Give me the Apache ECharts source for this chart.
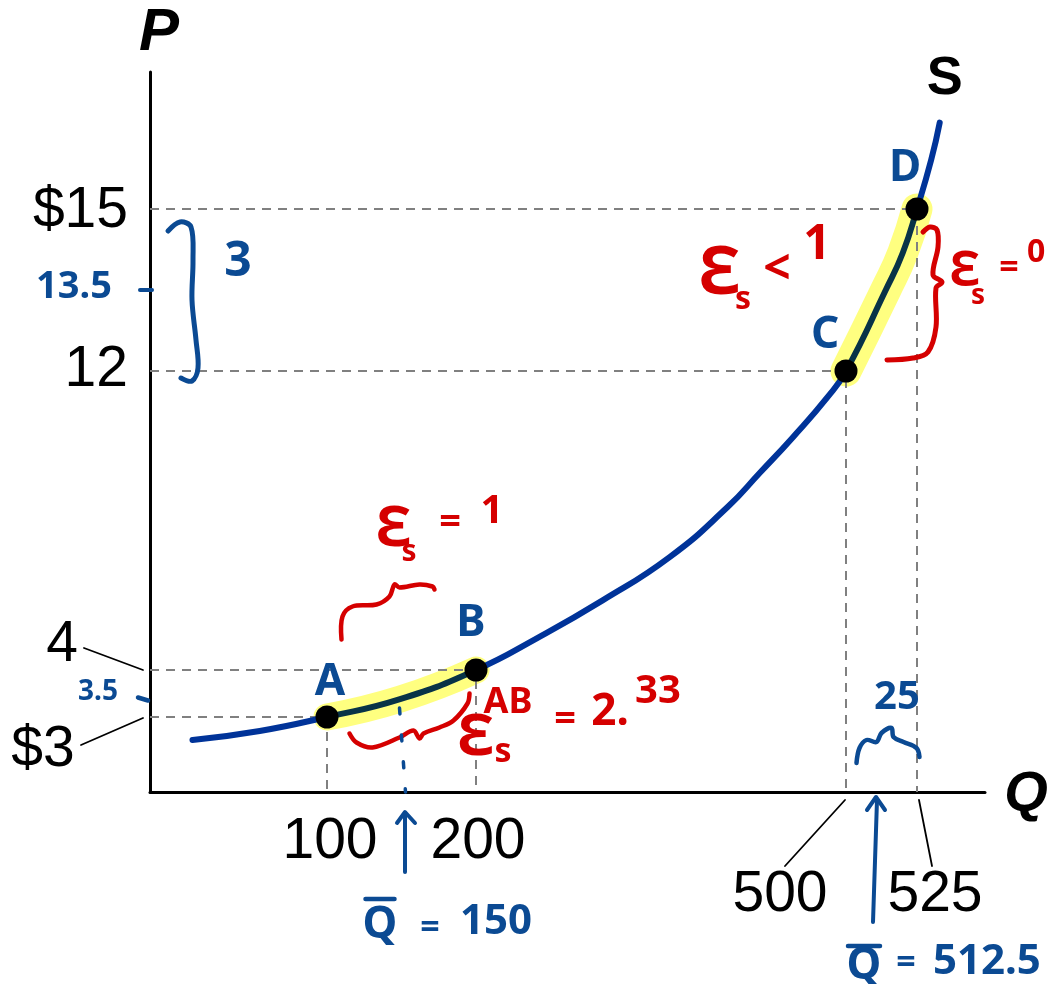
<!DOCTYPE html>
<html>
<head>
<meta charset="utf-8">
<title>Price elasticity of supply along S</title>
<script src="https://cdn.jsdelivr.net/npm/echarts@6/dist/echarts.min.js"></script>
<style>
  html, body { margin: 0; padding: 0; background: #ffffff; }
  #chart { width: 1047px; height: 984px; }
</style>
</head>
<body>
<div id="chart"></div>
<script>
// ---- Data -------------------------------------------------------------
// Marked points on the supply curve
const pointNames = ['A', 'B', 'C', 'D'];
const pointQ = [100, 200, 500, 525];
const pointP = [3, 4, 12, 15];

// Tick labels shown at those quantities / prices
const qTickText = ['100', '200', '500', '525'];
const pTickText = ['$3', '4', '12', '$15'];

// Supply curve S, sampled as (Q, P) pairs
const curveQ = [24, 62, 100, 149, 200, 250, 303, 357, 404, 430, 457, 485, 500, 514, 520, 525, 530, 533];
const curveP = [2.08, 2.44, 3, 3.38, 4, 4.86, 5.87, 7.02, 8.36, 9.27, 10.23, 11.3, 12, 13.5, 14.19, 15, 15.91, 16.6];

// Midpoint-method notes
const midQ = [150, 512.5];
const midP = [3.5, 13.5];
const deltaQ = 25;
const deltaP = 3;
const elasticityAB = '2.33';
const elasticityCD = '0.22';

(function () {
// ---- Schematic (broken) axes -----------------------------------------
// The diagram is not to scale: each range of Q and P gets its own room.
const Q_KNOTS = [0, 100, 200, 500, 525];
const X_AT    = [0, 177, 326, 696, 767];
const P_KNOTS = [0, 3, 4, 12, 15];
const Y_AT    = [0, 75, 122, 421, 583];
const X_MAX = 835, Y_MAX = 720;

function piecewise(v, ks, ps) {
  let i = 1;
  while (i < ks.length - 1 && v > ks[i]) i++;
  const k0 = ks[i - 1], k1 = ks[i], p0 = ps[i - 1], p1 = ps[i];
  return p0 + (v - k0) * (p1 - p0) / (k1 - k0);
}
const xOf = q => piecewise(q, Q_KNOTS, X_AT);
const yOf = p => piecewise(p, P_KNOTS, Y_AT);

// ---- Colours & fonts --------------------------------------------------
const BLUE_S = '#003399';
const DARK_S = '#083347';
const HIGHLIGHT = '#ffff80';
const GUIDE = '#808080';
const INK_BLUE = '#0b4a93';
const INK_RED = '#d50000';
const sans = n => `${n}px 'Liberation Sans', Arial, sans-serif`;
const hand = n => `bold ${n}px 'Noto Sans', 'DejaVu Sans', sans-serif`;

// ---- Series -----------------------------------------------------------
const curveData = curveQ.map((q, i) => [xOf(q), yOf(curveP[i])]);
const segment = (q0, q1) => curveQ
  .map((q, i) => [q, curveP[i]])
  .filter(d => d[0] >= q0 && d[0] <= q1)
  .map(d => [xOf(d[0]), yOf(d[1])]);

const series = [];
// yellow highlighter over the two arcs
[[pointQ[0], pointQ[1], 27], [pointQ[2], pointQ[3], 31]].forEach(s => {
  series.push({
    type: 'line', z: 1, silent: true, symbol: 'none',
    smooth: 0.5,
    data: segment(s[0], s[1]),
    lineStyle: { color: HIGHLIGHT, width: s[2], cap: 'round', join: 'round' }
  });
});
// dashed guides from each point to both axes
pointQ.forEach((q, i) => {
  series.push({
    type: 'line', z: 2, silent: true, symbol: 'none',
    data: [[0, yOf(pointP[i])], [xOf(q), yOf(pointP[i])], [xOf(q), 0]],
    lineStyle: { color: GUIDE, width: 2, type: [9, 7] }
  });
});
// the supply curve
const curveIndex = series.length;
series.push({
  type: 'line', z: 3, silent: true, symbol: 'none',
  smooth: 0.5,
  data: curveData,
  lineStyle: { width: 6, cap: 'round', join: 'round' }
});
// points A-D
series.push({
  type: 'scatter', z: 5, silent: true,
  symbol: 'circle', symbolSize: 23,
  itemStyle: { color: '#000000', opacity: 1 },
  data: pointQ.map((q, i) => ({ name: pointNames[i], value: [xOf(q), yOf(pointP[i])] }))
});

const chart = echarts.init(document.getElementById('chart'), null, { renderer: 'canvas' });
const axisCommon = {
  type: 'value', min: 0,
  axisLine: { show: true, onZero: false, lineStyle: { color: '#000000', width: 3 } },
  axisTick: { show: false }, axisLabel: { show: false }, splitLine: { show: false }
};
chart.setOption({
  animation: false,
  backgroundColor: '#ffffff',
  grid: { left: 150, top: 72, right: 62, bottom: 192 },
  xAxis: Object.assign({}, axisCommon, { max: X_MAX }),
  yAxis: Object.assign({}, axisCommon, { max: Y_MAX }),
  visualMap: [{
    type: 'piecewise', show: false, seriesIndex: curveIndex, dimension: 0,
    pieces: [
      { gte: xOf(pointQ[0]), lte: xOf(pointQ[1]), color: DARK_S },
      { gte: xOf(pointQ[2]), lte: xOf(pointQ[3]), color: DARK_S }
    ],
    outOfRange: { color: BLUE_S }
  }],
  series: series
});

// ---- Labels and hand-written notes, anchored through the axes ---------
const px = (q, p) => chart.convertToPixel({ gridIndex: 0 }, [xOf(q), yOf(p)]);
const els = [];
function stroke(a, offs, color, width, smooth, dash) {
  els.push({
    type: 'polyline', z: 100, silent: true,
    shape: { points: offs.map(o => [a[0] + o[0], a[1] + o[1]]), smooth: smooth || 0 },
    style: { stroke: color, lineWidth: width, fill: null, lineCap: 'round', lineJoin: 'round', lineDash: dash || null }
  });
}
function text(a, off, str, font, color, align) {
  els.push({
    type: 'text', z: 101, silent: true,
    style: { text: str, x: a[0] + off[0], y: a[1] + off[1], font: font, fill: color,
             align: align || 'center', verticalAlign: 'middle' }
  });
}

// axis titles
const axisTop = chart.convertToPixel({ gridIndex: 0 }, [0, Y_MAX]);
const axisEnd = chart.convertToPixel({ gridIndex: 0 }, [X_MAX, 0]);
text(axisTop, [9, -39], 'P', "italic bold 60px 'Liberation Sans', Arial, sans-serif", '#000000');
text(axisEnd, [41, 3], 'Q', "italic bold 56px 'Liberation Sans', Arial, sans-serif", '#000000');
const sEnd = px(curveQ[curveQ.length - 1], curveP[curveP.length - 1]);
text(sEnd, [5, -43], 'S', "bold 54px 'Liberation Sans', Arial, sans-serif", '#000000');

// price tick labels
text(px(0, pointP[3]), [-22, 2], pTickText[3], sans(57), '#000000', 'right');
text(px(0, pointP[2]), [-22, -1], pTickText[2], sans(57), '#000000', 'right');
text(px(0, pointP[1]), [-88, -25], pTickText[1], sans(57), '#000000');
stroke(px(0, pointP[1]), [[-66, -22], [-7, 0]], '#000000', 1.8);
text(px(0, pointP[0]), [-107, 33], pTickText[0], sans(57), '#000000');
stroke(px(0, pointP[0]), [[-69, 28], [-7, 1]], '#000000', 1.8);

// quantity tick labels
text(px(pointQ[0], 0), [3, 50], qTickText[0], sans(57), '#000000');
text(px(pointQ[1], 0), [2, 50], qTickText[1], sans(57), '#000000');
text(px(pointQ[2], 0), [-66, 103], qTickText[2], sans(57), '#000000');
stroke(px(pointQ[2], 0), [[-1, 8], [-61, 74]], '#000000', 1.8);
text(px(pointQ[3], 0), [18, 103], qTickText[3], sans(57), '#000000');
stroke(px(pointQ[3], 0), [[2, 8], [15, 74]], '#000000', 1.8);

// point letters
const letterOff = [[3, -35], [-5, -47], [-21, -36], [-12, -41]];
pointQ.forEach((q, i) => text(px(q, pointP[i]), letterOff[i], pointNames[i], hand(44), INK_BLUE));

// mid-price marks on the P axis
const p135 = px(0, midP[1]);
stroke(p135, [[-10, 0], [2, 0]], INK_BLUE, 4);
text(p135, [-76, -3], String(midP[1]), hand(38), INK_BLUE);
stroke(p135, [[18, -59], [30, -68], [41, -63], [43, -30], [42, 10], [46, 50], [48, 78], [42, 91], [31, 88]], INK_BLUE, 5, 0.35);
text(p135, [88, -28], String(deltaP), hand(48), INK_BLUE);
const p35 = px(0, midP[0]);
stroke(p35, [[-12, 4], [-2, 7]], INK_BLUE, 4.5);
text(p35, [-52, -1.5], String(midP[0]), hand(28), INK_BLUE);

// arc A-B notes
const mAB = px(midQ[0], midP[0]);
stroke(mAB, [[-60, -54], [-59, -77], [-49, -87], [-25, -89], [-12, -97], [-7, -109], [-2, -106], [18, -109], [31, -107], [33, -104]], INK_RED, 4.5, 0.35);
text(mAB, [-7.5, -163.5], 'Ɛ', hand(56), INK_RED);
text(mAB, [7.5, -141.5], 's', hand(30), INK_RED);
text(mAB, [48.5, -170.5], '=', hand(38), INK_RED);
text(mAB, [90.5, -181.5], '1', hand(40), INK_RED);
stroke(mAB, [[-52, 40], [-45, 49], [-29, 54], [-2, 44], [12, 37], [18, 45], [22, 40], [38, 34], [52, 27], [66, 10], [68, 0]], INK_RED, 4.5, 0.35);
text(mAB, [74.5, 44.5], 'Ɛ', hand(58), INK_RED);
text(mAB, [101.5, 58.5], 's', hand(34), INK_RED);
text(mAB, [106.5, 9.5], 'AB', hand(36), INK_RED);
text(mAB, [163.5, 26.5], '=', hand(38), INK_RED);
text(mAB, [208.5, 18.5], elasticityAB.slice(0, 2), hand(44), INK_RED);
text(mAB, [256.5, -1.5], elasticityAB.slice(2), hand(40), INK_RED);

// Q = 150 marker
const q150 = px(midQ[0], 0);
stroke(q150, [[-2, -84], [4, 0]], INK_BLUE, 3.5, 0, [6, 21]);
stroke(q150, [[3.5, 80], [3.5, 21]], INK_BLUE, 4);
stroke(q150, [[-4.5, 31], [3.5, 20], [13.5, 31]], INK_BLUE, 4);
stroke(q150, [[-36, 107], [-7, 107]], INK_BLUE, 4.5);
text(q150, [-21.5, 133], 'Q', hand(44), INK_BLUE);
text(q150, [28.5, 136], '=', hand(34), INK_BLUE);
text(q150, [94.5, 130], String(midQ[0]), hand(42), INK_BLUE);

// arc C-D notes
const mCD = px(midQ[1], midP[1]);
text(mCD, [-161.5, -15], 'Ɛ', hand(66), INK_RED);
text(mCD, [-138.5, 10], 's', hand(32), INK_RED);
text(mCD, [-104.5, -20], '<', hand(48), INK_RED);
text(mCD, [-64.5, -45], '1', hand(48), INK_RED);
stroke(mCD, [[41.5, -58], [48.5, -63], [55.5, -60], [56.5, -43], [51.5, -15], [60.5, -8], [54.5, -2], [54.5, 37], [46.5, 62], [31.5, 68], [5.5, 70]], INK_RED, 5, 0.35);
text(mCD, [83.5, -18], 'Ɛ', hand(48), INK_RED);
text(mCD, [96.5, 6], 's', hand(28), INK_RED);
text(mCD, [127.5, -22], '=', hand(34), INK_RED);
text(mCD, [145.5, -37], elasticityCD, hand(32), INK_RED, 'left');

// Q = 512.5 marker
const q5125 = px(midQ[1], 0);
stroke(q5125, [[-25, -29], [-22, -44], [-15, -52], [-5, -50], [0, -59], [10, -64], [12, -55], [22, -50], [35, -44], [38, -35]], INK_BLUE, 4.5, 0.35);
text(q5125, [15.5, -94], String(deltaQ), hand(40), INK_BLUE);
stroke(q5125, [[-8.5, 130], [-4.5, 8]], INK_BLUE, 4);
stroke(q5125, [[-14.5, 18], [-5.5, 5], [3.5, 18]], INK_BLUE, 4);
stroke(q5125, [[-33.5, 154], [-1.5, 154]], INK_BLUE, 4.5);
text(q5125, [-17.5, 174], 'Q', hand(44), INK_BLUE);
text(q5125, [24.5, 171], '=', hand(34), INK_BLUE);
text(q5125, [51.5, 170], String(midQ[1]), hand(42), INK_BLUE, 'left');

chart.setOption({ graphic: { elements: els } });
})();
</script>
</body>
</html>
